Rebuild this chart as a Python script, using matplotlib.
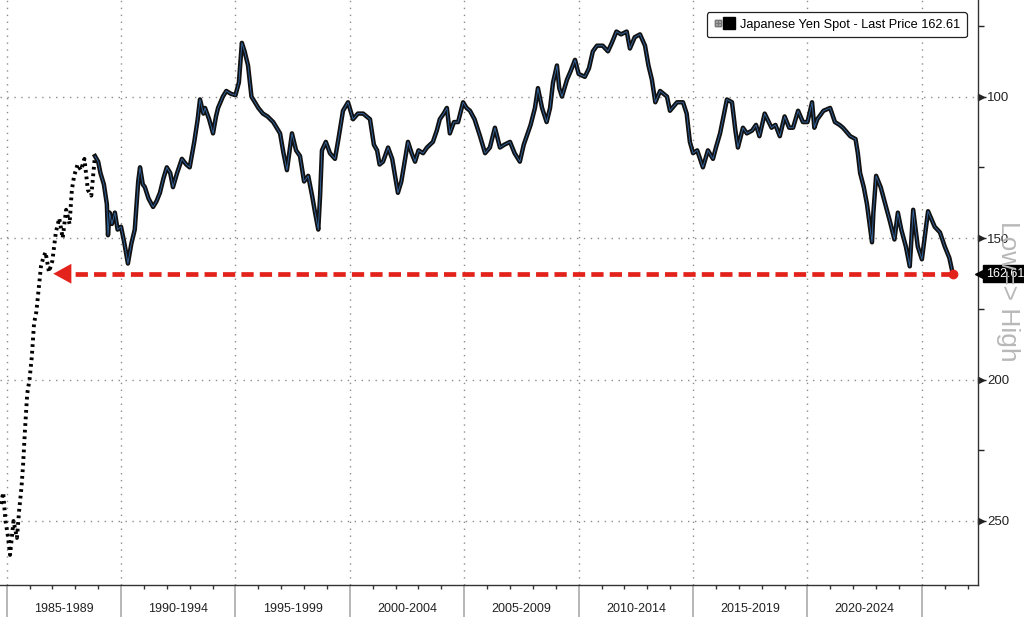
import matplotlib
matplotlib.use("Agg")
import matplotlib.pyplot as plt
import matplotlib.transforms as mtransforms
from matplotlib.lines import Line2D
from matplotlib.legend_handler import HandlerTuple

plt.rcParams['font.family'] = ['Liberation Sans', 'DejaVu Sans']

# sparse early prints (1984-1988), fractional years / JPY per USD
early_t = [1984.75, 1984.85, 1984.95, 1985.05, 1985.15, 1985.3, 1985.45, 1985.55, 1985.65,
           1985.72, 1985.8, 1985.9, 1986.0, 1986.1, 1986.2, 1986.3, 1986.4, 1986.5, 1986.6,
           1986.7, 1986.85, 1987.0, 1987.15, 1987.3, 1987.45, 1987.6, 1987.75, 1987.85,
           1987.95, 1988.1, 1988.25, 1988.4, 1988.55, 1988.7, 1988.86]
early_v = [244, 240, 250, 255, 262, 250, 256, 246, 238,
           230, 218, 205, 200, 192, 180, 176, 168, 160, 157,
           155, 162, 158, 148, 143, 150, 140, 145, 133,
           128, 124, 126, 122, 133, 135, 121]

# daily series
main_t = [1988.86, 1989.0, 1989.1, 1989.25, 1989.38, 1989.43, 1989.5, 1989.6, 1989.73, 1989.85,
          1990.0, 1990.15, 1990.3, 1990.45, 1990.6, 1990.75, 1990.83, 1990.95, 1991.04, 1991.2,
          1991.4, 1991.55, 1991.7, 1991.85, 1992.0, 1992.15, 1992.27, 1992.45, 1992.66, 1992.85,
          1993.0, 1993.2, 1993.35, 1993.45, 1993.6, 1993.67, 1993.85, 1994.02, 1994.15, 1994.24,
          1994.45, 1994.6, 1994.8, 1995.0, 1995.15, 1995.28, 1995.4, 1995.55, 1995.7, 1995.85,
          1996.0, 1996.2, 1996.4, 1996.65, 1996.8, 1996.95, 1997.1, 1997.25, 1997.47, 1997.65,
          1997.82, 1998.0, 1998.18, 1998.35, 1998.48, 1998.62, 1998.7, 1998.78, 1998.95, 1999.13,
          1999.35, 1999.5, 1999.7, 1999.92,
          2000.14, 2000.35, 2000.58, 2000.88, 2001.05, 2001.19, 2001.3, 2001.45, 2001.67, 2001.85,
          2002.1, 2002.25, 2002.54, 2002.7, 2002.85, 2003.0, 2003.2, 2003.37, 2003.63, 2003.8,
          2003.93, 2004.1, 2004.24, 2004.37, 2004.55, 2004.73, 2004.95, 2005.1, 2005.25, 2005.45,
          2005.69, 2005.91, 2006.12, 2006.34, 2006.56, 2006.75, 2007.0, 2007.2, 2007.43, 2007.6,
          2007.73, 2007.9, 2008.09, 2008.22, 2008.4, 2008.6, 2008.75, 2008.88, 2009.05, 2009.15,
          2009.27, 2009.49, 2009.65, 2009.84, 2010.0, 2010.27, 2010.45, 2010.62, 2010.8, 2011.05,
          2011.28, 2011.45, 2011.65, 2011.85, 2012.1, 2012.24, 2012.45, 2012.68, 2012.9, 2013.05,
          2013.2, 2013.35, 2013.56, 2013.86, 2013.99, 2014.3, 2014.56, 2014.72, 2014.86, 2015.0,
          2015.18, 2015.43, 2015.65, 2015.87, 2016.0, 2016.18, 2016.48, 2016.7, 2016.85, 2016.96,
          2017.18, 2017.35, 2017.58, 2017.75, 2017.9, 2018.13, 2018.43, 2018.6, 2018.79, 2019.0,
          2019.2, 2019.37, 2019.59, 2019.8, 2020.0, 2020.2, 2020.3, 2020.43, 2020.7, 2020.99,
          2021.2, 2021.4, 2021.55, 2021.87, 2022.1, 2022.2, 2022.3, 2022.46, 2022.6, 2022.82,
          2022.88, 2023.0, 2023.2, 2023.4, 2023.6, 2023.8, 2023.95, 2024.1, 2024.3, 2024.47,
          2024.62, 2024.82, 2025.0, 2025.27, 2025.56, 2025.79, 2026.0, 2026.2, 2026.35]
main_v = [121, 123, 127, 131, 138, 149, 141, 145, 141, 147,
          146, 152, 159, 152, 147, 130, 125, 131, 132, 136,
          139, 137, 134, 129, 125, 127, 132, 127, 122, 124,
          125, 116, 108, 101, 106, 104, 108, 113, 107, 104,
          100, 98, 99, 99.5, 95, 81, 84, 89, 100, 102,
          104, 106, 107, 109, 111, 113, 120, 126, 113, 119,
          121, 130, 128, 135, 141, 147, 135, 119, 116, 120,
          122, 115, 105, 102,
          108, 106, 106, 108, 117, 119, 124, 123, 118, 122,
          134, 130, 116, 120, 123, 119, 120, 118, 116, 112,
          108, 106, 104, 113, 109, 109, 102, 104, 105, 108,
          114, 120, 118, 111, 118, 117, 116, 120, 123, 117,
          114, 110, 104, 97, 104, 109, 104, 95, 89, 97,
          100, 94, 91, 87, 92, 93, 90, 84, 82, 82,
          84, 81, 77, 78, 77, 83, 79, 78, 82, 89,
          94, 102, 98, 100, 105, 102, 102, 106, 116, 120,
          119, 125, 119, 122, 118, 113, 101, 102, 112, 118,
          111, 113, 112, 110, 114, 106, 111, 110, 114, 107,
          111, 111, 105, 109, 109, 102, 111, 108, 105, 104,
          109, 110, 111, 114, 115, 120, 127, 132, 138, 151.5,
          141, 128, 132, 138, 144, 150.5, 141, 147, 153, 160,
          140, 153, 157.5, 140.5, 146, 148, 153, 157, 162.61]

last_price = 162.61
arrow_tip_t = 1987.04   # last time the yen was this weak

period_starts = [1985, 1990, 1995, 2000, 2005, 2010, 2015, 2020]
period_labels = ['1985-1989', '1990-1994', '1995-1999', '2000-2004',
                 '2005-2009', '2010-2014', '2015-2019', '2020-2024']
grid_years = [1985, 1990, 1995, 2000, 2005, 2010, 2015, 2020, 2025]
year_ticks = list(range(1985, 2028))
y_major = [100, 150, 200, 250]
y_minor = [75, 125, 175, 225]

fig = plt.figure(figsize=(10.24, 6.17), dpi=100)
ax = fig.add_axes([0.0, 0.0511, 0.9548, 0.9489])

ax.plot(early_t, early_v, color='black', lw=2.8, linestyle=(0, (0.7, 1.0)), zorder=3)
ax.plot(main_t, main_v, color='#111111', lw=3.2, zorder=3)
ax.plot(main_t, main_v, color='#3a78c2', lw=0.6, alpha=0.85, zorder=4)

red = '#e3221c'
ax.plot([main_t[-1], arrow_tip_t + 0.6], [last_price, last_price], color=red, lw=3.4,
        dashes=(2.6, 1.3), zorder=5)
ax.annotate('', xy=(arrow_tip_t, last_price), xytext=(arrow_tip_t + 0.8, last_price),
            arrowprops=dict(arrowstyle='-|>,head_length=1.0,head_width=0.55', color=red,
                            lw=0, mutation_scale=13, shrinkA=0, shrinkB=0), zorder=6)
ax.plot([main_t[-1]], [last_price], 'o', color=red, ms=6, zorder=7)

ax.set_xlim(1984.71, 2027.44)
ax.set_ylim(272.8, 65.85)

for s in ['left', 'top']:
    ax.spines[s].set_visible(False)
for s in ['right', 'bottom']:
    ax.spines[s].set_color('#333333')
    ax.spines[s].set_linewidth(1.0)

for g in grid_years:
    ax.axvline(g, color='#8c8c8c', lw=1.0, linestyle=(0, (1, 4)), zorder=1)
for yv in y_major:
    ax.axhline(yv, color='#8c8c8c', lw=1.0, linestyle=(0, (1, 4)), zorder=1)

# x axis: gray separators between periods, yearly ticks
ax.set_xticks(grid_years)
ax.set_xticklabels([])
ax.set_xticks(year_ticks, minor=True)
ax.tick_params(axis='x', which='major', direction='out', length=24, width=1.2, color='#aaaaaa')
ax.tick_params(axis='x', which='minor', direction='out', length=3, width=1.0, color='#333333')
xtr = ax.get_xaxis_transform()
for p, lab in zip(period_starts, period_labels):
    ax.text(p + 2.5, -0.040, lab, transform=xtr, ha='center', va='center',
            fontsize=9, color='#222222')

# y axis on the right
ax.yaxis.tick_right()
ax.set_yticks(y_major)
ax.set_yticks(y_minor, minor=True)
ax.tick_params(axis='y', which='major', length=6, width=1.0, color='#222222',
               labelsize=9.5, pad=1, labelcolor='#222222')
ax.tick_params(axis='y', which='minor', length=4, width=1.0, color='#222222')
ytr = ax.get_yaxis_transform() + mtransforms.ScaledTranslation(0.03, 0, fig.dpi_scale_trans)
ax.plot([1.0] * len(y_major), y_major, linestyle='none', marker='>', ms=4.5,
        color='#222222', transform=ytr, clip_on=False)

fig.text(1008 / 1024, 1 - 291 / 617, 'Low=> High', rotation=270, ha='center', va='center',
         fontsize=19, color='#b8b8b8')

# last price badge
btr = ax.get_yaxis_transform() + mtransforms.ScaledTranslation(0.035, 0, fig.dpi_scale_trans)
ax.plot([1.0], [last_price], linestyle='none', marker='<', ms=8, color='black',
        transform=btr, clip_on=False, zorder=8)
ax.annotate('%.2f' % last_price, xy=(1.0, last_price), xycoords=ax.get_yaxis_transform(),
            xytext=(8, 0), textcoords='offset pixels', ha='left', va='center',
            fontsize=9, color='white', annotation_clip=False, zorder=9,
            bbox=dict(boxstyle='square,pad=0.2', fc='black', ec='black'))

# legend
icon = Line2D([], [], marker=r'$\boxplus$', color='#777777', linestyle='none', markersize=5)
square = Line2D([], [], marker='s', color='black', linestyle='none', markersize=8)
leg = ax.legend([(icon, square)], ['Japanese Yen Spot - Last Price %.2f' % last_price],
                handler_map={tuple: HandlerTuple(ndivide=None, pad=0.1)},
                loc='upper right', bbox_to_anchor=(0.989, 0.979), fontsize=9.2,
                frameon=True, fancybox=True, framealpha=1, edgecolor='#222222',
                handlelength=1.6, handletextpad=0.55, borderpad=0.5, borderaxespad=0)
leg.get_frame().set_linewidth(0.9)

fig.savefig('out.png', dpi=100)
